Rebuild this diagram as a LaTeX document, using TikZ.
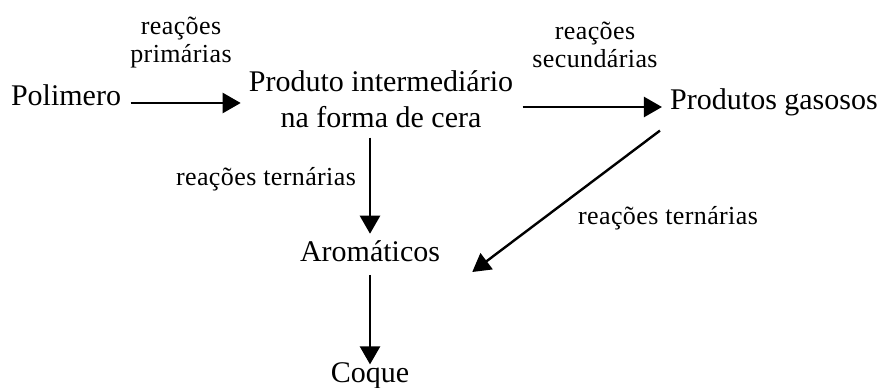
\documentclass[tikz,border=0pt]{standalone}
\usepackage{fontspec}
\setmainfont{Liberation Serif}
\newfontfamily\reactfont{Liberation Serif}[LetterSpace=1.5]
\usetikzlibrary{arrows.meta, positioning, calc}
\tikzset{
  stage/.style={font=\fontsize{22.5}{27}\selectfont, inner sep=0pt, text height=0.7em, text depth=0.25em},
  stagetwo/.style={font=\fontsize{22.5}{27}\selectfont, inner sep=0pt, align=center},
  reaction/.style={font=\reactfont\fontsize{19.5}{21}\selectfont, inner sep=0pt, align=center},
  flow/.style={-{Triangle[length=13.5pt, width=15pt]}, line width=1.8pt, shorten <=7pt, shorten >=6pt}
}
\begin{document}
\begin{tikzpicture}[x=0.75pt, y=-0.75pt]
\useasboundingbox (0,0) rectangle (885,388);

% substances
\node[stage, anchor=base] (polimero) at (66,106) {Polimero};
\node[stagetwo] (produto) at (381,99.5) {Produto intermediário\\na forma de cera};
\node[stage, anchor=base] (gasosos) at (774,110) {Produtos gasosos};
\node[stage, anchor=base] (aromaticos) at (370,262) {Aromáticos};
\node[stage, anchor=base] (coque) at (370,382) {Coque};

% reaction labels
\node[reaction] (primarias) at (181,43) {reações\\primárias};
\node[reaction] (secundarias) at (595,45) {reações\\secundárias};
\node[reaction, anchor=base] (ternariasA) at (266,186) {reações ternárias};
\node[reaction, anchor=base] (ternariasB) at (668,225) {reações ternárias};

% arrows
\draw[flow] (polimero.east) -- (polimero.east -| produto.west);
\draw[flow] (produto.east |- gasosos.west) -- (gasosos.west);
\draw[flow, shorten >=14pt] (aromaticos.north |- produto.south) -- (aromaticos.north);
\draw[flow, shorten <=0pt, shorten >=0pt] ([shift={(-10,17)}]gasosos.south west) -- ([shift={(32,13)}]aromaticos.east);
\draw[flow] (aromaticos.south) -- (coque.north);
\end{tikzpicture}
\end{document}
